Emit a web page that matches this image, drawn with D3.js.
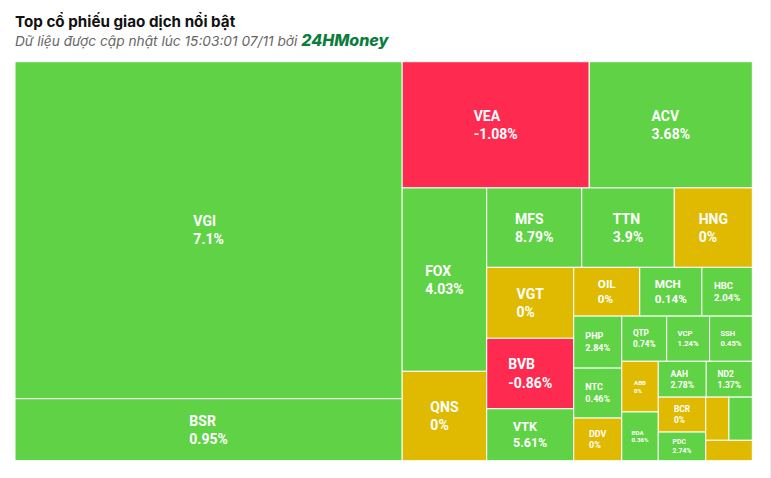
<!DOCTYPE html>
<html>
<head>
<meta charset="utf-8">
<script src="https://cdn.jsdelivr.net/npm/d3@7/dist/d3.min.js"></script>
<style>
  html, body { margin: 0; padding: 0; background: #fff; }
  svg { display: block; }
</style>
</head>
<body>
<svg id="chart" width="771" height="478"></svg>
<script>
// ---- Data ----
const tickers = ["VGI","BSR","VEA","ACV","FOX","QNS","MFS","TTN","HNG","VGT","BVB","VTK",
  "OIL","MCH","HBC","PHP","NTC","DDV","QTP","VCP","SSH","ABB","BDA","AAH","ND2","BCR","PDC","", "", ""];
// trading value (relative size of each cell)
const tradeValues = [1305.4,240.0,236.2,205.9,155.1,75.6,75.5,73.5,62.0,61.8,61.3,45.2,
  32.2,30.3,24.6,25.0,24.0,20.5,20.3,19.4,19.3,18.5,17.8,17.2,16.5,16.6,13.6,10.0,10.1,9.5];
// price change, %
const changes = [7.1,0.95,-1.08,3.68,4.03,0,8.79,3.9,0,0,-0.86,5.61,
  0,0.14,2.04,2.84,0.46,0,0.74,1.24,0.45,0,0.36,2.78,1.37,0,2.74,0,0.5,0];

const titleText = "Top cổ phiếu giao dịch nổi bật";
const subtitleText = "Dữ liệu được cập nhật lúc 15:03:01 07/11 bởi ";
const brandText = "24HMoney";

// ---- Layout ----
const W = 771, H = 478;
const area = { x: 15, y: 61.7, w: 737.3, h: 399 };
const colorUp = "#5fd245", colorDown = "#ff2a50", colorFlat = "#e0ba00";

const svg = d3.select("#chart");

// card edge
svg.append("line").attr("x1", 770.5).attr("x2", 770.5).attr("y1", 0).attr("y2", H)
  .attr("stroke", "#ececec");

svg.append("text").attr("x", 15).attr("y", 27)
  .attr("font-family", "Inter, Roboto, sans-serif").attr("font-weight", 700)
  .attr("font-size", 15.2).attr("fill", "#111").text(titleText);

const sub = svg.append("text").attr("x", 15).attr("y", 45.5)
  .attr("font-family", "Inter, Roboto, sans-serif").attr("font-style", "italic")
  .attr("font-size", 13.7).attr("fill", "#666");
sub.append("tspan").text(subtitleText);
sub.append("tspan").attr("font-weight", 800).attr("font-size", 16).attr("fill", "#0c7d3d").text(brandText);

// Highcharts-style squarified tiling (alternating strips)
function tileStrips(parent, x0, y0, x1, y1) {
  const nodes = parent.children;
  const scale = (x1 - x0) * (y1 - y0) / parent.value;
  let px = x0, py = y0, RW = x1 - x0, RH = y1 - y0;
  let dir = 0;
  let group = [];
  const ar = (a, b) => Math.max(a / b, b / a);
  function place(items, vertical) {
    const sum = d3.sum(items, n => n.value * scale);
    if (vertical) {
      const w = sum / RH; let y = py;
      items.forEach(n => { const h = n.value * scale / w; n.x0 = px; n.x1 = px + w; n.y0 = y; n.y1 = y + h; y += h; });
      px += w; RW -= w;
    } else {
      const h = sum / RW; let x = px;
      items.forEach(n => { const w = n.value * scale / h; n.x0 = x; n.x1 = x + w; n.y0 = py; n.y1 = py + h; x += w; });
      py += h; RH -= h;
    }
  }
  nodes.forEach(n => {
    if (group.length) {
      const prev = group[group.length - 1].value * scale;
      const s0 = d3.sum(group, g => g.value * scale);
      const s1 = s0 + n.value * scale;
      let r0, r1;
      if (dir === 0) { const w0 = s0 / RH, w1 = s1 / RH; r0 = ar(w0, prev / w0); r1 = ar(w1, prev / w1); }
      else { const h0 = s0 / RW, h1 = s1 / RW; r0 = ar(prev / h0, h0); r1 = ar(prev / h1, h1); }
      if (r1 > r0) { place(group, dir === 0); dir = 1 - dir; group = []; }
    }
    group.push(n);
  });
  if (group.length) place(group, dir === 0);
}

const rows = tickers.map((t, i) => ({ name: t, value: tradeValues[i], change: changes[i] }));
const root = d3.hierarchy({ children: rows }).sum(d => d.value || 0);
d3.treemap().size([area.w, area.h]).tile(tileStrips)(root);

const g = svg.append("g").attr("transform", `translate(${area.x},${area.y})`);
const color = c => c > 0 ? colorUp : (c < 0 ? colorDown : colorFlat);
const fmt = c => `${c}%`;

const cell = g.selectAll("g.cell").data(root.leaves()).join("g").attr("class", "cell");
cell.append("rect")
  .attr("x", d => d.x0).attr("y", d => d.y0)
  .attr("width", d => d.x1 - d.x0).attr("height", d => d.y1 - d.y0)
  .attr("fill", d => color(d.data.change))
  .attr("stroke", "#fff").attr("stroke-width", 1);

cell.each(function(d) {
  const w = d.x1 - d.x0, h = d.y1 - d.y0;
  if (!d.data.name || w < 28 || h < 24) return;
  const fs = Math.max(5, Math.min(14, h * 0.24, (w - 12) * 0.25));
  const cx = (d.x0 + d.x1) / 2, cy = (d.y0 + d.y1) / 2;
  const t = d3.select(this).append("text")
    .attr("font-family", "Roboto, 'Liberation Sans', sans-serif")
    .attr("font-weight", 700).attr("font-size", fs).attr("fill", "#fff");
  const t1 = t.append("tspan").attr("y", cy - 0.29 * fs).text(d.data.name);
  const t2 = t.append("tspan").attr("y", cy + fs).text(fmt(d.data.change));
  const bw = Math.max(t1.node().getComputedTextLength(), t2.node().getComputedTextLength());
  t1.attr("x", cx - bw / 2); t2.attr("x", cx - bw / 2);
});
</script>
</body>
</html>
